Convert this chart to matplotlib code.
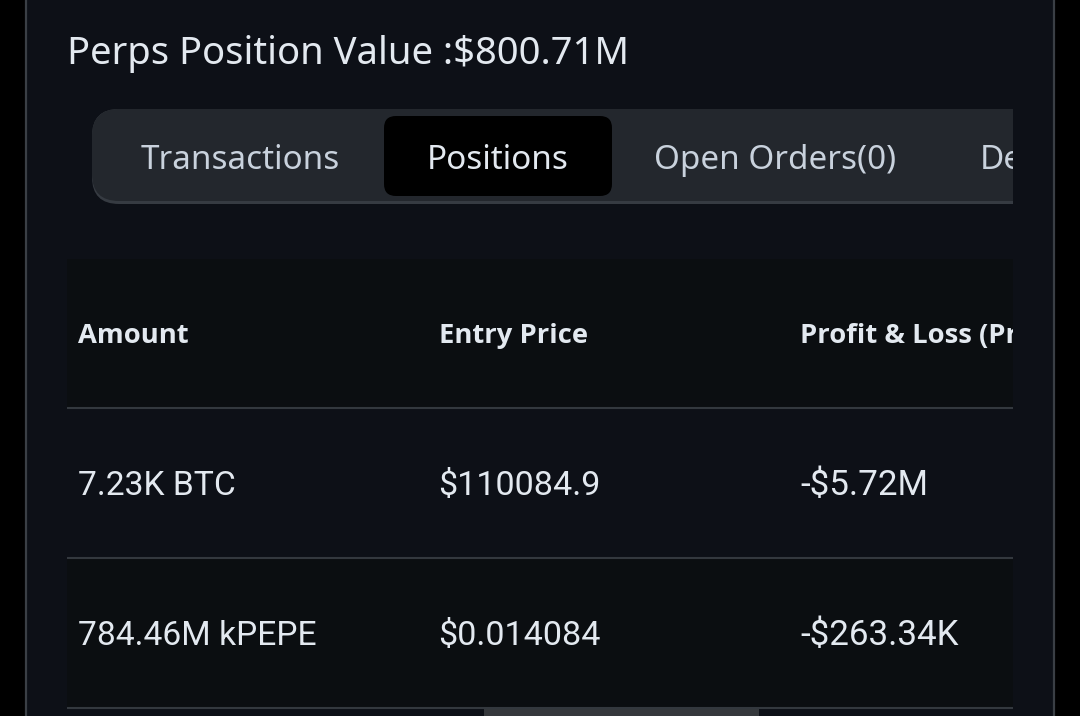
# -*- coding: utf-8 -*-
import matplotlib
matplotlib.use('Agg')
import matplotlib.pyplot as plt
from matplotlib.patches import FancyBboxPatch, Rectangle

title = "Perps Position Value :$800.71M"
tabs = ["Transactions", "Positions", "Open Orders(0)", "De"]
columns = ["Amount", "Entry Price", "Profit & Loss (Pr"]
amounts = ["7.23K BTC", "784.46M kPEPE"]
entry_prices = ["$110084.9", "$0.014084"]
pnl = ["-$5.72M", "-$263.34K"]

PANEL = '#0d1017'
ROW_DARK = '#0b0e11'
LINE = '#33383e'
TEXT = '#e3e9f0'
TAB_TEXT = '#c9d2dd'

fig = plt.figure(figsize=(10.8, 7.16), dpi=100, facecolor='black')
ax = fig.add_axes([0, 0, 1, 1])
ax.set_xlim(0, 1080)
ax.set_ylim(716, 0)
ax.axis('off')

# panel and side borders
ax.add_patch(Rectangle((26, 0), 1028, 716, fc=PANEL, ec='none'))
ax.plot([26, 26], [0, 716], color='#3a3f45', lw=1.6)
ax.plot([1054, 1054], [0, 716], color='#3a3f45', lw=1.6)

ax.text(67, 64, title, fontsize=27.5, color=TEXT, family='Noto Sans', va='baseline')

clip = Rectangle((0, 0), 1013, 716, transform=ax.transData)

# tab bar, lighter one underneath shows as the bottom edge
under = FancyBboxPatch((92, 109), 1000, 95, boxstyle="round,pad=0,rounding_size=27",
                       fc='#363b42', ec='none')
ax.add_patch(under)
under.set_clip_path(clip)
bar = FancyBboxPatch((92, 109), 1000, 92, boxstyle="round,pad=0,rounding_size=27",
                     fc='#23272d', ec='none')
ax.add_patch(bar)
bar.set_clip_path(clip)
ax.add_patch(FancyBboxPatch((384, 116), 228, 80, boxstyle="round,pad=0,rounding_size=12",
                            fc='black', ec='none'))
tab_x = [141, 427, 654, 980]
for i in range(len(tabs)):
    t = ax.text(tab_x[i], 169, tabs[i], fontsize=23.9, family='Noto Sans',
                color=TEXT if i == 1 else TAB_TEXT, va='baseline', clip_on=True)
    t.set_clip_path(clip)

# table rows
ax.add_patch(Rectangle((67, 259), 946, 148, fc=ROW_DARK, ec='none'))
ax.add_patch(Rectangle((67, 558), 946, 150, fc=ROW_DARK, ec='none'))
for y in [408, 558, 708]:
    ax.plot([67, 1013], [y, y], color=LINE, lw=1.5, solid_capstyle='butt')

col_x = [78, 439, 800]
for i in range(len(columns)):
    t = ax.text(col_x[i], 343, columns[i], fontsize=19.7, fontweight='bold', family='Open Sans',
                color=TEXT, va='baseline', clip_on=True)
    t.set_clip_path(clip)

row_y = [495, 645]
col_size = [24.2, 24.6, 25.2]
for i in range(len(amounts)):
    ax.text(col_x[0], row_y[i], amounts[i], fontsize=col_size[0], family='Roboto', color=TEXT, va='baseline')
    ax.text(col_x[1] - 1, row_y[i], entry_prices[i], fontsize=col_size[1], family='Roboto', color=TEXT, va='baseline')
    ax.text(col_x[2], row_y[i], pnl[i], fontsize=col_size[2], family='Roboto', color=TEXT, va='baseline')

# scrollbar thumb
ax.add_patch(Rectangle((484, 709), 275, 7, fc='#35383c', ec='none'))

fig.savefig('out.png', dpi=100, facecolor='black')
